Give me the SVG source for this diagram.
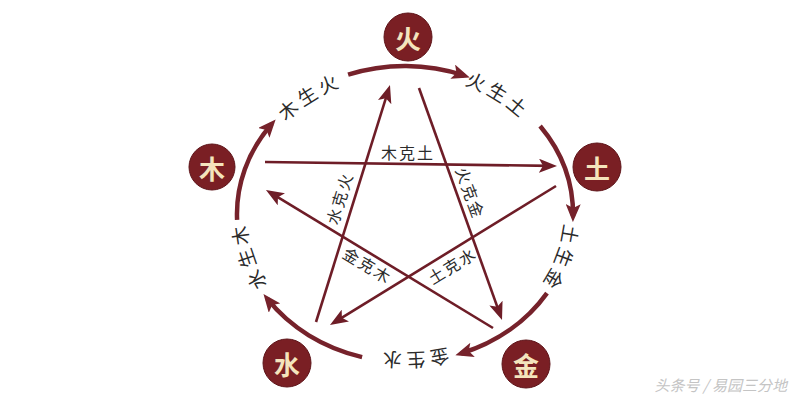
<svg xmlns="http://www.w3.org/2000/svg" width="800" height="400" viewBox="0 0 800 400">
<style>
.node circle{fill:#7a1f24;stroke:#5e1419;stroke-width:1}
.node text{font-family:"Noto Sans CJK SC","Noto Sans",sans-serif;font-weight:700;font-size:26px;fill:#f4e4bd;text-anchor:middle;dominant-baseline:central}
.arc{fill:none;stroke:#76222b;stroke-width:4.5;marker-end:url(#ah)}
.ke{fill:none;stroke:#6e1d27;stroke-width:2.6;marker-end:url(#ah2)}
.lab{font-family:"Noto Sans CJK SC",sans-serif;font-size:19px;fill:#2b2b2b;letter-spacing:5px;dominant-baseline:central}
.klab{font-family:"Noto Sans CJK SC",sans-serif;font-size:16px;fill:#2b2b2b;letter-spacing:2px;text-anchor:middle;dominant-baseline:central}
.wm{font-family:"Noto Sans CJK SC",sans-serif;font-size:15px;fill:#c4c4c4;text-anchor:end;font-style:italic}
</style>
<defs>
<marker id="ah" markerUnits="userSpaceOnUse" viewBox="0 0 18 15" markerWidth="18" markerHeight="15" refX="12" refY="7.5" orient="auto"><path d="M0,0 L18,7.5 L0,15 L4,7.5 z" fill="#76222b"/></marker>
<marker id="ah2" markerUnits="userSpaceOnUse" viewBox="0 0 18 14" markerWidth="18" markerHeight="14" refX="12" refY="7" orient="auto"><path d="M0,0 L18,7 L0,14 L4,7 z" fill="#6e1d27"/></marker>
<path id="p1" d="M266.6,130.2 A168,148 0 0 1 360.1,71.4"/>
<path id="p2" d="M448.5,71 A168,148 0 0 1 542.6,129.1"/>
<path id="p3" d="M572.9,208.8 A168,148 0 0 1 537.4,305.1"/>
<path id="p4" d="M470.6,350.2 A168,148 0 0 1 355.9,355.5"/>
<path id="p5" d="M269.9,302 A168,148 0 0 1 237.3,205"/>
</defs>
<rect width="800" height="400" fill="#ffffff"/>
<g id="connectors">
<path class="arc" d="M348.1,74.7 A168,148 0 0 1 464.1,75.5"/>
<path class="arc" d="M540.1,126 A168,148 0 0 1 573,216.1"/>
<path class="arc" d="M547,293.1 A168,148 0 0 1 461.1,353.5"/>
<path class="arc" d="M362.1,357.1 A168,148 0 0 1 267.2,298.7"/>
<path class="arc" d="M237.1,219.9 A168,148 0 0 1 271.7,123.9"/>
<text class="lab"><textPath href="#p1" startOffset="50%" text-anchor="middle">木生火</textPath></text>
<text class="lab"><textPath href="#p2" startOffset="50%" text-anchor="middle">火生土</textPath></text>
<text class="lab"><textPath href="#p3" startOffset="50%" text-anchor="middle">土生金</textPath></text>
<text class="lab"><textPath href="#p4" startOffset="50%" text-anchor="middle">金生水</textPath></text>
<text class="lab"><textPath href="#p5" startOffset="50%" text-anchor="middle">水生木</textPath></text>
<line class="ke" x1="265" y1="162" x2="551" y2="165.9"/>
<line class="ke" x1="419" y1="88" x2="500" y2="314.4"/>
<line class="ke" x1="556" y1="186" x2="335.1" y2="321.9"/>
<line class="ke" x1="316" y1="322" x2="388.2" y2="90.7"/>
<line class="ke" x1="493" y1="328" x2="271.1" y2="193.1"/>
<text class="klab" transform="translate(408,152)">木克土</text>
<text class="klab" transform="translate(339,198) rotate(-73)">水克火</text>
<text class="klab" transform="translate(471,193) rotate(70)">火克金</text>
<text class="klab" transform="translate(368,265) rotate(31)">金克木</text>
<text class="klab" transform="translate(452,265) rotate(-31.5)">土克水</text>
</g>
<g id="node-huo" class="node"><circle cx="408" cy="37" r="24"/><text x="408" y="37">火</text></g>
<g id="node-mu" class="node"><circle cx="212" cy="167" r="23"/><text x="212" y="167">木</text></g>
<g id="node-tu" class="node"><circle cx="597" cy="167" r="24"/><text x="597" y="167">土</text></g>
<g id="node-shui" class="node"><circle cx="287" cy="363" r="24"/><text x="287" y="363">水</text></g>
<g id="node-jin" class="node"><circle cx="526" cy="364" r="24"/><text x="526" y="364">金</text></g>
<text class="wm" x="787" y="391">头条号 / 易园三分地</text>
</svg>
